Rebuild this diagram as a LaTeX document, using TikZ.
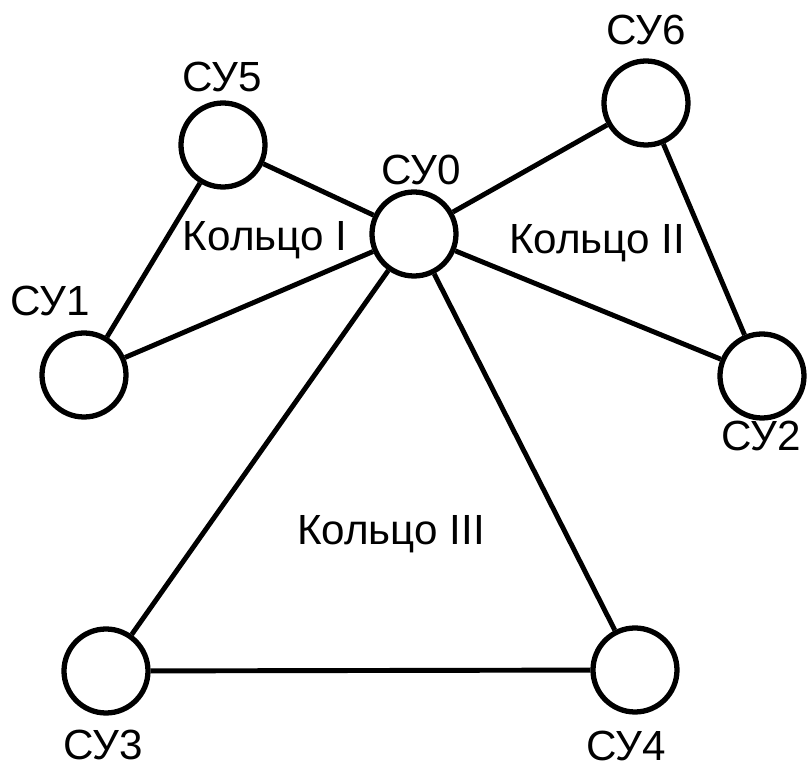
\documentclass[tikz,border=0pt]{standalone}
\usepackage{fontspec}
\setmainfont{Liberation Sans}
\usetikzlibrary{positioning}

\tikzset{
  su/.style={draw,circle,line width=1.5pt,minimum size=0.84cm,inner sep=0pt,fill=white},
  link/.style={line width=1.4pt},
  lbl/.style={font=\fontsize{12}{14}\selectfont,inner sep=0pt}
}

\begin{document}
\begin{tikzpicture}
\useasboundingbox (0,0) rectangle (8.07,-7.68);

% nodes
\node[su] (s0) at (4.14,-2.34){};
\node[su] (s5) at (2.23,-1.45){};
\node[su] (s6) at (6.46,-1.03){};
\node[su] (s1) at (0.84,-3.75){};
\node[su] (s2) at (7.62,-3.76){};
\node[su] (s3) at (1.06,-6.71){};
\node[su] (s4) at (6.35,-6.70){};

% links
\draw[link] (s5)--(s0);
\draw[link] (s5)--(s1);
\draw[link] (s1)--(s0);
\draw[link] (s0)--(s6);
\draw[link] (s6)--(s2);
\draw[link] (s2)--(s0);
\draw[link] (s0)--(s3);
\draw[link] (s0)--(s4);
\draw[link] (s3)--(s4);

% names
\node[lbl] (n0) at (4.21,-1.70){СУ0};
\node[lbl] (n5) at (2.22,-0.77){СУ5};
\node[lbl] (n6) at (6.46,-0.30){СУ6};
\node[lbl] (n1) at (0.50,-3.01){СУ1};
\node[lbl] (n2) at (7.61,-4.36){СУ2};
\node[lbl] (n3) at (1.03,-7.45){СУ3};
\node[lbl] (n4) at (6.26,-7.46){СУ4};

% rings
\node[lbl] (r1) at (2.65,-2.40){Кольцо I};
\node[lbl] (r2) at (5.97,-2.43){Кольцо II};
\node[lbl] (r3) at (3.91,-5.34){Кольцо III};
\end{tikzpicture}
\end{document}
